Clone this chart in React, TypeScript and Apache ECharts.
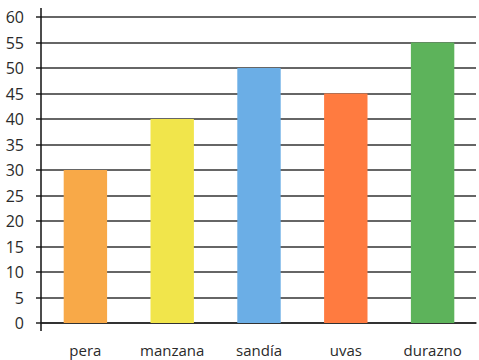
import React, { useEffect, useRef } from "react";
import * as echarts from "echarts";

const categories = ["pera", "manzana", "sandía", "uvas", "durazno"];
const values = [30, 40, 50, 45, 55];
const barColors = ["#F8A948", "#F1E54B", "#6BAEE6", "#FF7B40", "#5DB35B"];
const yTicks = [0, 60, 5];

export default function App() {
  const ref = useRef<HTMLDivElement>(null);
  useEffect(() => {
    if (!ref.current) return;
    const chart = echarts.init(ref.current, undefined, { renderer: "svg" });
    const font = "'Open Sans', 'Noto Sans', sans-serif";
    chart.setOption({
      animation: false,
      grid: { left: 42, right: 3, top: 17, bottom: 37, containLabel: false },
      xAxis: {
        type: "category",
        data: categories,
        axisLine: { show: true, onZero: false, lineStyle: { color: "#222", width: 1.5 } },
        axisTick: { show: false },
        axisLabel: { color: "#2a2a2a", fontSize: 15, fontFamily: font, margin: 19 },
      },
      yAxis: {
        type: "value",
        min: yTicks[0],
        max: yTicks[1],
        interval: yTicks[2],
        axisLine: { show: false },
        axisTick: { show: true, length: 6, lineStyle: { color: "#222", width: 1.5 } },
        axisLabel: { color: "#2a2a2a", fontSize: 16, fontFamily: font, margin: 18 },
        splitLine: { show: true, lineStyle: { color: "#333", width: 1.5 } },
      },
      graphic: [
        {
          type: "line",
          shape: { x1: 41, y1: 8, x2: 41, y2: 331 },
          style: { stroke: "#111", lineWidth: 1.5 },
          z: 10,
        },
      ],
      series: [
        {
          type: "bar",
          data: values.map((v, i) => ({ value: v, itemStyle: { color: barColors[i] } })),
          barWidth: "50%",
          z: 5,
        },
      ],
    });
    return () => chart.dispose();
  }, []);
  return (
    <div
      ref={ref}
      style={{ position: "absolute", left: 0, top: 0, width: 479, height: 360 }}
    />
  );
}
